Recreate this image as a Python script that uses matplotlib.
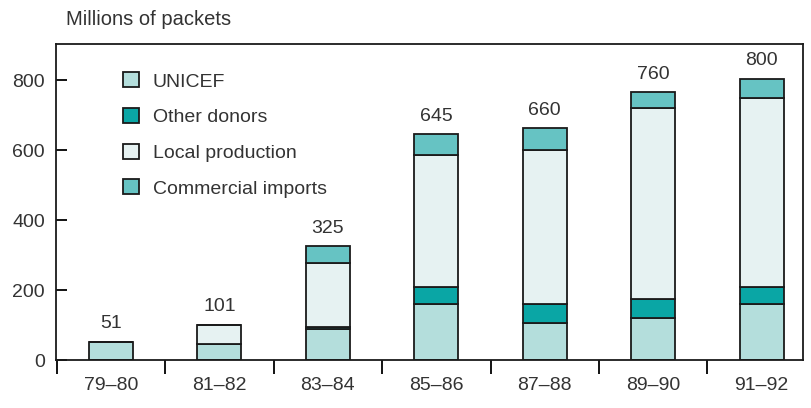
import numpy as np
import matplotlib.pyplot as plt

plt.rcParams['font.family'] = ['Liberation Sans', 'DejaVu Sans']

periods = ['79–80', '81–82', '83–84', '85–86', '87–88', '89–90', '91–92']
unicef = [51, 45, 88, 160, 105, 120, 160]
other_donors = [0, 0, 5, 50, 55, 55, 50]
local_prod = [0, 56, 185, 376, 440, 545, 538]
commercial = [0, 0, 47, 59, 62, 45, 55]
totals = [51, 101, 325, 645, 660, 760, 800]

series = [('UNICEF', unicef, '#b4dedc'),
          ('Other donors', other_donors, '#0aa6a5'),
          ('Local production', local_prod, '#e6f2f2'),
          ('Commercial imports', commercial, '#66c3c3')]

fig = plt.figure(figsize=(8.11, 4.08), dpi=100)
ax = fig.add_axes([0.069, 0.1176, 0.921, 0.7745])

ind = np.arange(len(periods))
width = 0.405
bottom = np.zeros(len(periods))
handles = []
for name, vals, col in series:
    vals = np.array(vals, dtype=float)
    b = ax.bar(ind, vals, width, bottom=bottom, color=col, edgecolor='#1a1a1a',
               linewidth=1.3, label=name, zorder=2)
    handles.append(b)
    bottom += vals

for i, t in enumerate(totals):
    ax.annotate(str(t), (ind[i], bottom[i]), xytext=(0, 7), textcoords='offset points',
                ha='center', va='bottom', fontsize=14, color='#333333')

ax.set_xlim(-0.507, 6.38)
ax.set_ylim(0, 903)

ax.set_yticks([0, 200, 400, 600, 800])
ax.tick_params(axis='y', direction='in', length=8, width=1.3, pad=8,
               labelsize=14, labelcolor='#333333')

ax.set_xticks(np.arange(-0.5, 6, 1.0))
ax.set_xticklabels([])
ax.tick_params(axis='x', which='major', direction='out', length=10, width=1.3)
ax.set_xticks(ind, minor=True)
ax.set_xticklabels(periods, minor=True)
ax.tick_params(axis='x', which='minor', length=0, pad=12, labelsize=14,
               labelcolor='#333333')

for s in ax.spines.values():
    s.set_linewidth(1.3)
    s.set_color('#1a1a1a')

ax.text(0.013, 1.048, 'Millions of packets', transform=ax.transAxes, fontsize=14.5,
        color='#333333', ha='left', va='bottom')

leg = ax.legend(handles=handles, loc='upper left', bbox_to_anchor=(0.08, 0.935),
                frameon=False, fontsize=14, handlelength=0.8, handleheight=0.8,
                handletextpad=0.7, labelspacing=0.9, borderaxespad=0)
for t in leg.get_texts():
    t.set_color('#333333')

fig.savefig('out.png', dpi=100)
